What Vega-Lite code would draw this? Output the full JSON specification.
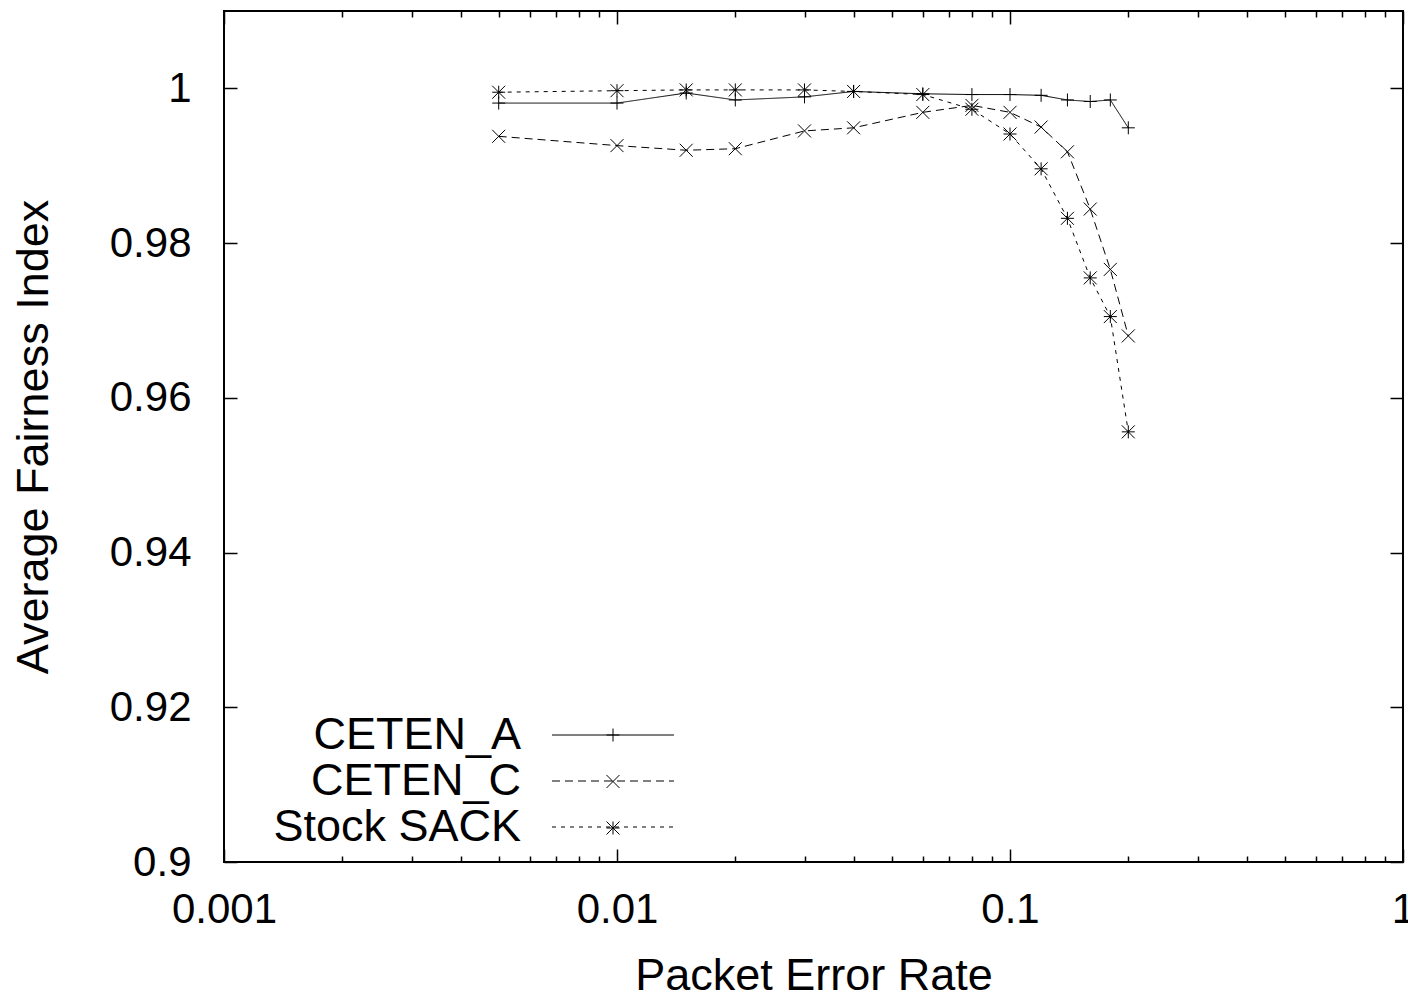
{
  "$schema": "https://vega.github.io/schema/vega-lite/v6.json",
  "width": 1179,
  "height": 851,
  "autosize": {"type": "none"},
  "padding": {"left": 224, "top": 11, "right": 5, "bottom": 137},
  "background": "white",
  "data": {
    "values": [
      {"per": 0.005, "fi": 0.9981, "series": "CETEN_A", "mk": "CETEN_A"},
      {"per": 0.01, "fi": 0.9981, "series": "CETEN_A", "mk": "CETEN_A"},
      {"per": 0.015, "fi": 0.9994, "series": "CETEN_A", "mk": "CETEN_A"},
      {"per": 0.02, "fi": 0.9985, "series": "CETEN_A", "mk": "CETEN_A"},
      {"per": 0.03, "fi": 0.9989, "series": "CETEN_A", "mk": "CETEN_A"},
      {"per": 0.04, "fi": 0.9996, "series": "CETEN_A", "mk": "CETEN_A"},
      {"per": 0.06, "fi": 0.9993, "series": "CETEN_A", "mk": "CETEN_A"},
      {"per": 0.08, "fi": 0.9992, "series": "CETEN_A", "mk": "CETEN_A"},
      {"per": 0.1, "fi": 0.9992, "series": "CETEN_A", "mk": "CETEN_A"},
      {"per": 0.12, "fi": 0.9991, "series": "CETEN_A", "mk": "CETEN_A"},
      {"per": 0.14, "fi": 0.9985, "series": "CETEN_A", "mk": "CETEN_A"},
      {"per": 0.16, "fi": 0.9983, "series": "CETEN_A", "mk": "CETEN_A"},
      {"per": 0.18, "fi": 0.9985, "series": "CETEN_A", "mk": "CETEN_A"},
      {"per": 0.2, "fi": 0.9949, "series": "CETEN_A", "mk": "CETEN_A"},
      {"per": 0.005, "fi": 0.9938, "series": "CETEN_C", "mk": "CETEN_C"},
      {"per": 0.01, "fi": 0.9926, "series": "CETEN_C", "mk": "CETEN_C"},
      {"per": 0.015, "fi": 0.9920, "series": "CETEN_C", "mk": "CETEN_C"},
      {"per": 0.02, "fi": 0.9922, "series": "CETEN_C", "mk": "CETEN_C"},
      {"per": 0.03, "fi": 0.9945, "series": "CETEN_C", "mk": "CETEN_C"},
      {"per": 0.04, "fi": 0.9949, "series": "CETEN_C", "mk": "CETEN_C"},
      {"per": 0.06, "fi": 0.9969, "series": "CETEN_C", "mk": "CETEN_C"},
      {"per": 0.08, "fi": 0.9978, "series": "CETEN_C", "mk": "CETEN_C"},
      {"per": 0.1, "fi": 0.9969, "series": "CETEN_C", "mk": "CETEN_C"},
      {"per": 0.12, "fi": 0.9950, "series": "CETEN_C", "mk": "CETEN_C"},
      {"per": 0.14, "fi": 0.9918, "series": "CETEN_C", "mk": "CETEN_C"},
      {"per": 0.16, "fi": 0.9844, "series": "CETEN_C", "mk": "CETEN_C"},
      {"per": 0.18, "fi": 0.9766, "series": "CETEN_C", "mk": "CETEN_C"},
      {"per": 0.2, "fi": 0.9680, "series": "CETEN_C", "mk": "CETEN_C"},
      {"per": 0.005, "fi": 0.9995, "series": "Stock SACK", "mk": "Stock SACK"},
      {"per": 0.01, "fi": 0.9997, "series": "Stock SACK", "mk": "Stock SACK"},
      {"per": 0.015, "fi": 0.9998, "series": "Stock SACK", "mk": "Stock SACK"},
      {"per": 0.02, "fi": 0.9998, "series": "Stock SACK", "mk": "Stock SACK"},
      {"per": 0.03, "fi": 0.9998, "series": "Stock SACK", "mk": "Stock SACK"},
      {"per": 0.04, "fi": 0.9996, "series": "Stock SACK", "mk": "Stock SACK"},
      {"per": 0.06, "fi": 0.9992, "series": "Stock SACK", "mk": "Stock SACK"},
      {"per": 0.08, "fi": 0.9973, "series": "Stock SACK", "mk": "Stock SACK"},
      {"per": 0.1, "fi": 0.9941, "series": "Stock SACK", "mk": "Stock SACK"},
      {"per": 0.12, "fi": 0.9896, "series": "Stock SACK", "mk": "Stock SACK"},
      {"per": 0.14, "fi": 0.9832, "series": "Stock SACK", "mk": "Stock SACK"},
      {"per": 0.16, "fi": 0.9755, "series": "Stock SACK", "mk": "Stock SACK"},
      {"per": 0.18, "fi": 0.9705, "series": "Stock SACK", "mk": "Stock SACK"},
      {"per": 0.2, "fi": 0.9556, "series": "Stock SACK", "mk": "Stock SACK"}
    ]
  },
  "resolve": {"axis": {"x": "independent", "y": "independent"}},
  "layer": [
    {
      "transform": [{"filter": "datum.series === 'CETEN_A'"}],
      "mark": {"type": "line", "color": "black", "strokeWidth": 1},
      "encoding": {
        "x": {"field": "per", "type": "quantitative",
          "scale": {"type": "log", "domain": [0.001, 1], "nice": false},
          "axis": {"orient": "bottom", "values": [0.001, 0.01, 0.1, 1], "format": "~g", "tickSize": -13, "labelPadding": 40, "labelFlush": false, "title": "Packet Error Rate", "titleY": 91, "titleBaseline": "top"}},
        "y": {"field": "fi", "type": "quantitative",
          "scale": {"domain": [0.9, 1.01], "nice": false, "zero": false},
          "axis": {"orient": "left", "values": [0.9, 0.92, 0.94, 0.96, 0.98, 1], "format": "~g", "tickSize": -13, "labelPadding": 46, "title": "Average Fairness Index", "titleX": -177, "titleBaseline": "alphabetic"}},
        "strokeDash": {"field": "series", "type": "nominal",
          "scale": {"range": [[1, 0], [8, 5], [4, 5]]},
          "legend": {"orient": "none", "legendX": 366, "legendY": 701, "title": null, "symbolType": "M-2.711,0L2.711,0", "symbolSize": 2025, "symbolStrokeWidth": 1, "symbolStrokeColor": "black", "labelAlign": "right", "labelOffset": -115, "labelFontSize": 45, "labelFont": "Liberation Sans", "labelColor": "black", "rowPadding": 0, "padding": 0, "labelLimit": 0}}
      }
    },
    {
      "transform": [{"filter": "datum.series === 'CETEN_C'"}],
      "mark": {"type": "line", "color": "black", "strokeWidth": 1},
      "encoding": {
        "x": {"field": "per", "type": "quantitative",
          "scale": {"type": "log", "domain": [0.001, 1], "nice": false},
          "axis": {"orient": "top", "values": [0.001, 0.01, 0.1, 1], "labels": false, "tickSize": -13, "title": null}},
        "y": {"field": "fi", "type": "quantitative",
          "scale": {"domain": [0.9, 1.01], "nice": false, "zero": false},
          "axis": {"orient": "right", "values": [0.9, 0.92, 0.94, 0.96, 0.98, 1], "labels": false, "tickSize": -13, "title": null}},
        "strokeDash": {"field": "series", "type": "nominal",
          "scale": {"range": [[1, 0], [8, 5], [4, 5]]},
          "legend": {"orient": "none", "legendX": 366, "legendY": 701, "title": null, "symbolType": "M-2.711,0L2.711,0", "symbolSize": 2025, "symbolStrokeWidth": 1, "symbolStrokeColor": "black", "labelAlign": "right", "labelOffset": -115, "labelFontSize": 45, "labelFont": "Liberation Sans", "labelColor": "black", "rowPadding": 0, "padding": 0, "labelLimit": 0}}
      }
    },
    {
      "transform": [{"filter": "datum.series === 'Stock SACK'"}],
      "mark": {"type": "line", "color": "black", "strokeWidth": 1},
      "encoding": {
        "x": {"field": "per", "type": "quantitative",
          "scale": {"type": "log", "domain": [0.001, 1], "nice": false},
          "axis": {"orient": "bottom", "values": [0.002, 0.003, 0.004, 0.005, 0.006, 0.007, 0.008, 0.009, 0.02, 0.03, 0.04, 0.05, 0.06, 0.07, 0.08, 0.09, 0.2, 0.3, 0.4, 0.5, 0.6, 0.7, 0.8, 0.9], "labels": false, "tickSize": -6, "title": null}},
        "y": {"field": "fi", "type": "quantitative",
          "scale": {"domain": [0.9, 1.01], "nice": false, "zero": false},
          "axis": null},
        "strokeDash": {"field": "series", "type": "nominal",
          "scale": {"range": [[1, 0], [8, 5], [4, 5]]},
          "legend": {"orient": "none", "legendX": 366, "legendY": 701, "title": null, "symbolType": "M-2.711,0L2.711,0", "symbolSize": 2025, "symbolStrokeWidth": 1, "symbolStrokeColor": "black", "labelAlign": "right", "labelOffset": -115, "labelFontSize": 45, "labelFont": "Liberation Sans", "labelColor": "black", "rowPadding": 0, "padding": 0, "labelLimit": 0}}
      }
    },
    {
      "mark": {"type": "point", "filled": false, "color": "black", "strokeWidth": 1, "size": 169, "opacity": 1},
      "encoding": {
        "x": {"field": "per", "type": "quantitative",
          "scale": {"type": "log", "domain": [0.001, 1], "nice": false},
          "axis": {"orient": "top", "values": [0.002, 0.003, 0.004, 0.005, 0.006, 0.007, 0.008, 0.009, 0.02, 0.03, 0.04, 0.05, 0.06, 0.07, 0.08, 0.09, 0.2, 0.3, 0.4, 0.5, 0.6, 0.7, 0.8, 0.9], "labels": false, "tickSize": -6, "title": null}},
        "y": {"field": "fi", "type": "quantitative",
          "scale": {"domain": [0.9, 1.01], "nice": false, "zero": false},
          "axis": null},
        "shape": {"field": "mk", "type": "nominal",
          "scale": {"range": ["M-1,0L1,0M0,-1L0,1", "M-1,-1L1,1M-1,1L1,-1", "M-1,0L1,0M0,-1L0,1M-1,-1L1,1M-1,1L1,-1"]},
          "legend": {"orient": "none", "legendX": 366.5, "legendY": 701.5, "title": null, "symbolSize": 169, "symbolStrokeWidth": 1, "symbolStrokeColor": "black", "symbolFillColor": "transparent", "labelFontSize": 45, "labelFont": "Liberation Sans", "labelOpacity": 0, "rowPadding": 0.5, "padding": 0}}
      }
    }
  ],
  "config": {
    "view": {"stroke": "black", "strokeWidth": 2},
    "axis": {"domain": false, "grid": false, "tickColor": "black", "tickWidth": 1.5, "labelColor": "black", "titleColor": "black", "labelFont": "Liberation Sans", "titleFont": "Liberation Sans", "labelFontSize": 42, "titleFontSize": 45, "titleFontWeight": "normal"}
  }
}
